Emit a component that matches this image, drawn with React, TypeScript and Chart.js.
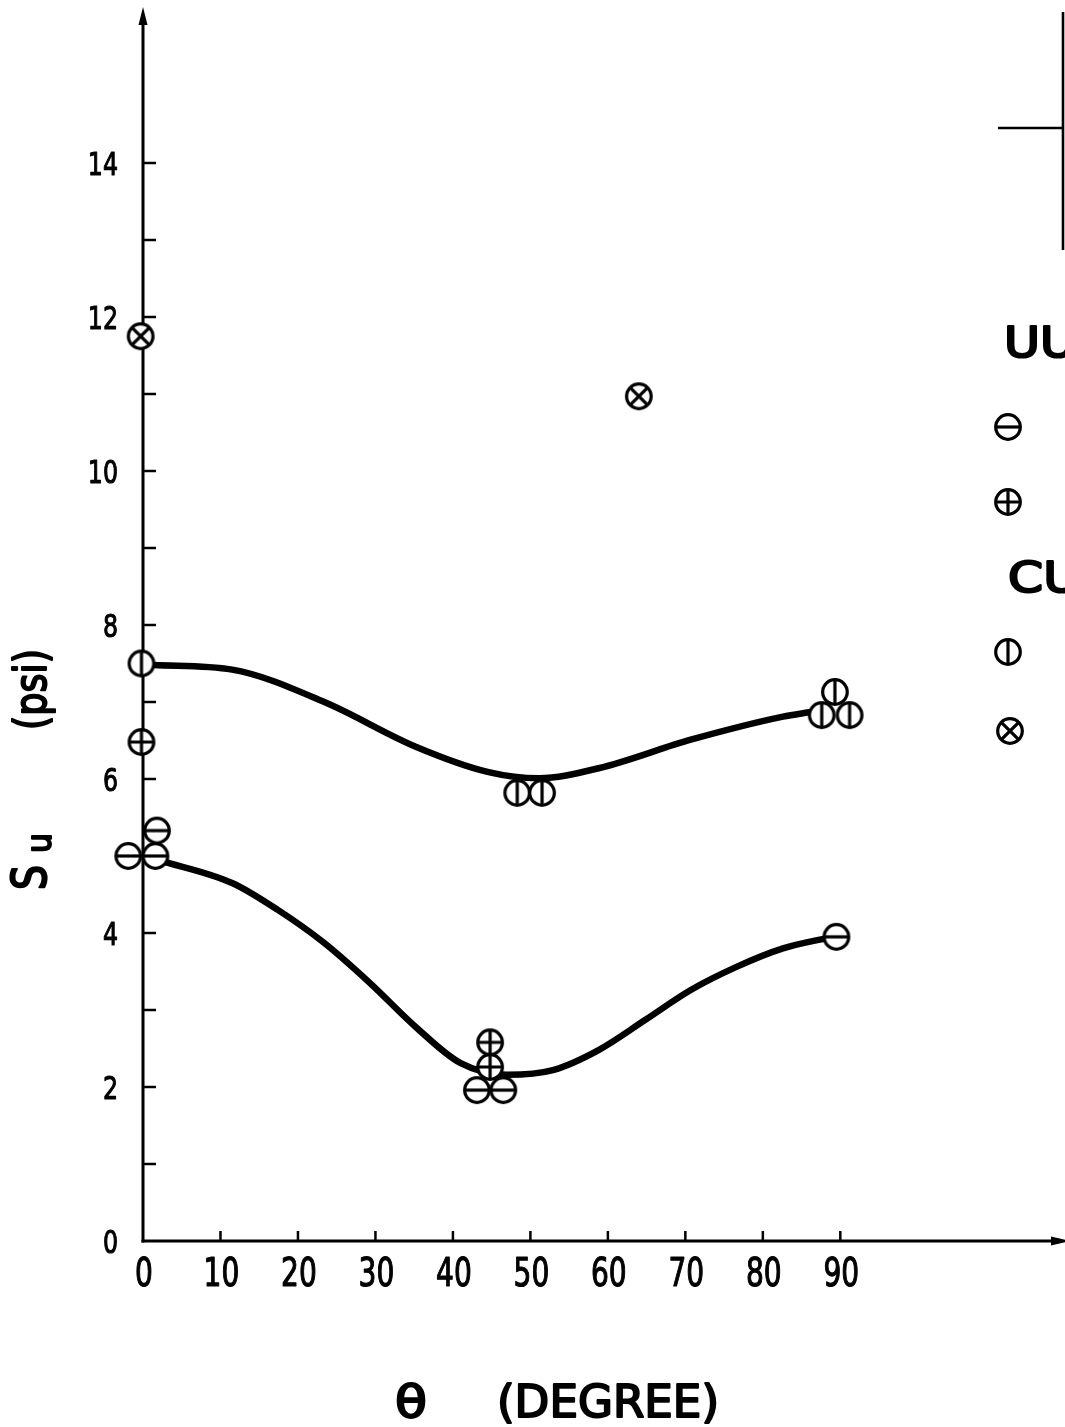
import { useEffect, useRef } from "react";
import { Chart, registerables } from "chart.js";

Chart.register(...registerables);

// ---- data ----
// UU, symbol ⊖ (circle with horizontal bar)
const uuMinusX = [1.6, -1.9, 1.8, 46.5, 43.1, 89.5];
const uuMinusY = [5.0, 5.0, 5.33, 1.96, 1.96, 3.95];
// UU, symbol ⊕ (circle with cross)
const uuPlusX = [44.8, -0.2, 44.8];
const uuPlusY = [2.58, 6.48, 2.26];
// CU, symbol ⦶ (circle with vertical bar)
const cuBarX = [48.3, -0.2, 51.5, 87.6, 91.2, 89.3];
const cuBarY = [5.82, 7.5, 5.82, 6.83, 6.83, 7.13];
// CU, symbol ⊗ (circle with x)
const cuCrossX = [64.0, -0.3];
const cuCrossY = [10.97, 11.75];

// hand-drawn fitted curves
const upperCurveX = [1.4, 11.5, 23.4, 35.2, 44.6, 51.1, 58.8, 70.7, 82.6, 86.2];
const upperCurveY = [7.48, 7.42, 7.0, 6.42, 6.09, 6.01, 6.14, 6.51, 6.81, 6.87];
const lowerCurveX = [1.9, 11.5, 17.4, 23.4, 29.3, 35.2, 41.0, 47.0, 52.9, 58.8, 64.8, 70.7, 76.6, 82.6, 89.0];
const lowerCurveY = [4.95, 4.65, 4.3, 3.87, 3.35, 2.78, 2.31, 2.16, 2.22, 2.48, 2.87, 3.26, 3.56, 3.8, 3.95];

// axes
const xLabelValues = [0, 10, 20, 30, 40, 50, 60, 70, 80, 90];
const yLabelValues = [0, 2, 4, 6, 8, 10, 12, 14];
const xTickValues = [10, 20, 30, 40, 50, 60, 70, 80, 90];
const yTickValues = [1, 2, 3, 4, 5, 6, 7, 8, 9, 10, 11, 12, 13, 14];
const xTitle = "(DEGREE)";
const xSymbol = "θ";
const yTitleMain = "S";
const yTitleSub = "u";
const yTitleUnit = "(psi)";
const legendGroups = ["UU", "CU"];

const FONT = '"DejaVu Sans", "Liberation Sans", sans-serif';

function pts(xs: number[], ys: number[]) {
  return xs.map((x, i) => ({ x, y: ys[i] }));
}

function makeMarker(kind: string, r = 12.3, lw = 3.2): HTMLCanvasElement {
  const s = 36;
  const c = document.createElement("canvas");
  c.width = s;
  c.height = s;
  const g = c.getContext("2d")!;
  const m = s / 2;
  g.lineWidth = lw;
  g.strokeStyle = "#000";
  g.fillStyle = "#fff";
  g.beginPath();
  g.arc(m, m, r, 0, Math.PI * 2);
  g.fill();
  g.stroke();
  g.beginPath();
  if (kind === "minus" || kind === "plus") {
    g.moveTo(m - r, m);
    g.lineTo(m + r, m);
  }
  if (kind === "bar" || kind === "plus") {
    g.moveTo(m, m - r);
    g.lineTo(m, m + r);
  }
  if (kind === "cross") {
    const d = r * 0.7071;
    g.moveTo(m - d, m - d);
    g.lineTo(m + d, m + d);
    g.moveTo(m + d, m - d);
    g.lineTo(m - d, m + d);
  }
  g.stroke();
  return c;
}

function drawScaled(
  ctx: CanvasRenderingContext2D,
  text: string,
  x: number,
  y: number,
  sx: number,
  align: CanvasTextAlign,
  baseline: CanvasTextBaseline,
  extraStroke = 0
) {
  ctx.save();
  ctx.translate(x, y);
  ctx.scale(sx, 1);
  ctx.textAlign = align;
  ctx.textBaseline = baseline;
  ctx.fillText(text, 0, 0);
  if (extraStroke > 0) {
    ctx.lineWidth = extraStroke;
    ctx.strokeStyle = "#000";
    ctx.lineJoin = "round";
    ctx.strokeText(text, 0, 0);
  }
  ctx.restore();
}

function drawFit(
  ctx: CanvasRenderingContext2D,
  text: string,
  x: number,
  y: number,
  width: number,
  baseline: CanvasTextBaseline,
  extraStroke = 0
) {
  const w = ctx.measureText(text).width;
  drawScaled(ctx, text, x, y, width / w, "left", baseline, extraStroke);
}

export default function App() {
  const ref = useRef<HTMLCanvasElement | null>(null);

  useEffect(() => {
    const canvas = ref.current;
    if (!canvas) return;
    const mMinus = makeMarker("minus");
    const mPlus = makeMarker("plus");
    const mBar = makeMarker("bar");
    const mCross = makeMarker("cross");

    const axesPlugin = {
      id: "figureAxes",
      beforeDatasetsDraw(chart: any) {
        const ctx: CanvasRenderingContext2D = chart.ctx;
        const xs = chart.scales.x;
        const ys = chart.scales.y;
        const x0 = xs.getPixelForValue(0);
        const y0 = ys.getPixelForValue(0);
        const { top } = chart.chartArea;
        const right = chart.width;
        ctx.save();
        ctx.strokeStyle = "#000";
        ctx.fillStyle = "#000";
        ctx.lineWidth = 3;
        ctx.lineCap = "butt";
        // y axis
        ctx.beginPath();
        ctx.moveTo(x0, y0 + 1.5);
        ctx.lineTo(x0, top + 10);
        ctx.stroke();
        ctx.beginPath();
        ctx.moveTo(x0, top - 2);
        ctx.lineTo(x0 - 4.5, top + 16);
        ctx.lineTo(x0 + 4.5, top + 16);
        ctx.closePath();
        ctx.fill();
        // x axis
        ctx.beginPath();
        ctx.moveTo(x0 - 1.5, y0);
        ctx.lineTo(right - 8, y0);
        ctx.stroke();
        ctx.beginPath();
        ctx.moveTo(right + 6, y0);
        ctx.lineTo(right - 14, y0 - 4.5);
        ctx.lineTo(right - 14, y0 + 4.5);
        ctx.closePath();
        ctx.fill();
        // inward tick marks
        ctx.lineWidth = 2.5;
        yTickValues.forEach((v) => {
          const py = ys.getPixelForValue(v);
          ctx.beginPath();
          ctx.moveTo(x0, py);
          ctx.lineTo(x0 + 13, py);
          ctx.stroke();
        });
        xTickValues.forEach((v) => {
          const px = xs.getPixelForValue(v);
          ctx.beginPath();
          ctx.moveTo(px, y0);
          ctx.lineTo(px, y0 - 10);
          ctx.stroke();
        });
        ctx.restore();
      },
      afterDraw(chart: any) {
        const ctx: CanvasRenderingContext2D = chart.ctx;
        const xs = chart.scales.x;
        const ys = chart.scales.y;
        const x0 = xs.getPixelForValue(0);
        const y0 = ys.getPixelForValue(0);
        ctx.save();
        ctx.fillStyle = "#000";
        // y tick labels
        ctx.font = `32px ${FONT}`;
        yLabelValues.forEach((v) => {
          const py = ys.getPixelForValue(v);
          drawScaled(ctx, String(v), x0 - 25, py + 4, 0.74, "right", "middle", 1.1);
        });
        // x tick labels
        ctx.font = `39px ${FONT}`;
        xLabelValues.forEach((v) => {
          const px = xs.getPixelForValue(v);
          drawScaled(ctx, String(v), px + 1, y0 + 35, 0.72, "center", "middle", 1.2);
        });
        // x title
        ctx.font = `44px ${FONT}`;
        drawFit(ctx, xSymbol, 395, 1417, 32, "alphabetic", 2);
        drawFit(ctx, xTitle, 497, 1417, 222, "alphabetic", 2);
        // y title (rotated)
        ctx.save();
        ctx.translate(46, 890);
        ctx.rotate(-Math.PI / 2);
        ctx.font = `48px ${FONT}`;
        drawFit(ctx, yTitleMain, 0, 0, 25, "alphabetic", 2.2);
        ctx.font = `34px ${FONT}`;
        drawFit(ctx, yTitleSub, 37, 5, 20, "alphabetic", 2);
        ctx.font = `44px ${FONT}`;
        drawFit(ctx, yTitleUnit, 160, 0, 81, "alphabetic", 2);
        ctx.restore();
        // legend (partially cut off at the right)
        ctx.font = `42px ${FONT}`;
        drawFit(ctx, legendGroups[0], 1004, 357, 72, "alphabetic", 2.2);
        drawFit(ctx, legendGroups[1], 1008, 592, 72, "alphabetic", 2.2);
        const legendMarkers: [HTMLCanvasElement, number, number][] = [
          [mMinus, 1008, 427],
          [mPlus, 1008, 502],
          [mBar, 1008, 652],
          [mCross, 1010, 731],
        ];
        legendMarkers.forEach(([m, cx, cy]) => {
          ctx.drawImage(m, cx - m.width / 2, cy - m.height / 2);
        });
        // schematic fragment at top right
        ctx.strokeStyle = "#000";
        ctx.lineWidth = 2.6;
        ctx.beginPath();
        ctx.moveTo(1063, 12);
        ctx.lineTo(1063, 250);
        ctx.moveTo(998, 128);
        ctx.lineTo(1063, 128);
        ctx.stroke();
        ctx.restore();
      },
    };

    const markerDs = (xs: number[], ys: number[], style: HTMLCanvasElement) => ({
      data: pts(xs, ys),
      pointStyle: style as any,
      pointRadius: 24,
      pointHoverRadius: 24,
      pointBorderWidth: 0,
      showLine: false,
      clip: false as any,
    });
    const curveDs = (xs: number[], ys: number[]) => ({
      data: pts(xs, ys),
      showLine: true,
      borderColor: "#000",
      borderWidth: 6.5,
      pointRadius: 0,
      pointHoverRadius: 0,
      cubicInterpolationMode: "monotone" as const,
      borderCapStyle: "round" as const,
      clip: false as any,
    });

    const chart = new Chart(canvas, {
      type: "scatter",
      data: {
        datasets: [
          markerDs(uuMinusX, uuMinusY, mMinus),
          markerDs(uuPlusX, uuPlusY, mPlus),
          markerDs(cuBarX, cuBarY, mBar),
          markerDs(cuCrossX, cuCrossY, mCross),
          curveDs(upperCurveX, upperCurveY),
          curveDs(lowerCurveX, lowerCurveY),
        ] as any,
      },
      options: {
        animation: false,
        responsive: false,
        events: [],
        layout: { autoPadding: false, padding: { top: 9, left: 0, right: 0, bottom: 0 } },
        plugins: {
          legend: { display: false },
          tooltip: { enabled: false },
        },
        scales: {
          x: {
            type: "linear",
            min: 0,
            max: 119,
            grid: { display: false },
            border: { display: false },
            ticks: { display: false, stepSize: 10 },
            afterFit: (s: any) => {
              s.height = 186;
            },
          },
          y: {
            type: "linear",
            min: 0,
            max: 16,
            grid: { display: false },
            border: { display: false },
            ticks: { display: false, stepSize: 1 },
            afterFit: (s: any) => {
              s.width = 143;
            },
          },
        },
      } as any,
      plugins: [axesPlugin],
    });
    return () => chart.destroy();
  }, []);

  return (
    <div style={{ position: "absolute", left: 0, top: 0, width: 1065, height: 1427, background: "#fff" }}>
      <canvas ref={ref} width={1065} height={1427} style={{ display: "block" }} />
    </div>
  );
}
